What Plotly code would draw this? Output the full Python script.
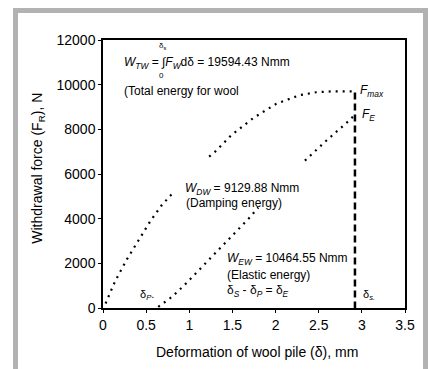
import plotly.graph_objects as go

# Loading curve (total energy), with a gap where the label sits
load_x = [0.03, 0.14, 0.28, 0.41, 0.55, 0.68, 0.82, None, 1.23, 1.30, 1.49, 1.74, 2.01, 2.28, 2.47, 2.65, 2.92]
load_y = [200, 1200, 2200, 3050, 3900, 4600, 5200, None, 6780, 7000, 7750, 8500, 9150, 9530, 9660, 9700, 9700]

# Unloading / elastic curve
elastic_x = [0.64, 0.80, 0.95, 1.10, 1.25, 1.40, 1.55, 1.70, 1.80, None, 2.34, 2.59, 2.82, 2.92]
elastic_y = [50, 500, 1050, 1650, 2250, 2850, 3450, 4050, 4500, None, 6600, 7500, 8280, 8650]

# delta_s vertical marker
ds_x = [2.92, 2.92]
ds_y = [9650, 0]

x_ticks = [0, 0.5, 1, 1.5, 2, 2.5, 3, 3.5]
x_tick_labels = ["0", "0.5", "1", "1.5", "2", "2.5", "3", "3.5"]
y_ticks = [0, 2000, 4000, 6000, 8000, 10000, 12000]
y_tick_labels = ["0", "2000", "4000", "6000", "8000", "10000", "12000"]

FONT = "Liberation Sans, Arial, sans-serif"

fig = go.Figure()
fig.add_trace(go.Scatter(x=load_x, y=load_y, mode="lines", connectgaps=False,
                         line=dict(color="black", width=2.2, dash="2px,5px"),
                         showlegend=False, hoverinfo="skip"))
fig.add_trace(go.Scatter(x=elastic_x, y=elastic_y, mode="lines", connectgaps=False,
                         line=dict(color="black", width=2.2, dash="2px,5px"),
                         showlegend=False, hoverinfo="skip"))
fig.add_trace(go.Scatter(x=ds_x, y=ds_y, mode="lines",
                         line=dict(color="black", width=2.5, dash="7px,4px"),
                         showlegend=False, hoverinfo="skip"))

ann = []
def txt(x, y, t, size=12):
    ann.append(dict(x=x, y=y, xref="x", yref="y",
                    text=t, showarrow=False, xanchor="left", yanchor="middle",
                    font=dict(family=FONT, size=size, color="black")))

txt(0.223, 10985, "<i>W</i><sub><i>TW</i></sub> = ∫<i>F</i><sub><i>W</i></sub>dδ = 19594.43 Nmm")
txt(0.62, 11720, "δ<sub>s</sub>", size=8)
txt(0.63, 10400, "0", size=8)
txt(0.223, 9718, "(Total energy for wool")
txt(2.955, 9718, "<i>F</i><sub><i>max</i></sub>")
txt(2.975, 8645, "<i>F</i><sub><i>E</i></sub>")
txt(0.93, 5330, "<i>W</i><sub><i>DW</i></sub> = 9129.88 Nmm")
txt(0.94, 4720, "(Damping energy)")
txt(1.414, 2180, "<i>W</i><sub><i>EW</i></sub> = 10464.55 Nmm")
txt(1.414, 1480, "(Elastic energy)")
txt(1.414, 742, "δ<sub><i>S</i></sub> - δ<sub><i>P</i></sub> = δ<sub><i>E</i></sub>")
txt(0.41, 595, "δ<sub><i>P</i></sub>.", size=11)
txt(2.99, 595, "δ<sub><i>s.</i></sub>", size=11)

# axis titles
ann.append(dict(x=-0.215, y=0.52, xref="paper", yref="paper", textangle=-90,
                text="Withdrawal force (F<sub>R</sub>), N", showarrow=False,
                xanchor="center", yanchor="middle",
                font=dict(family=FONT, size=14, color="black")))
ann.append(dict(x=0.51, y=-0.164, xref="paper", yref="paper",
                text="Deformation of wool pile (δ), mm", showarrow=False,
                xanchor="center", yanchor="middle",
                font=dict(family=FONT, size=14, color="black")))

W, H = 428, 369
L, R, T, B = 103, 23, 40, 61
pw, ph = W - L - R, H - T - B
def px(xp): return (xp - L) / pw
def py(yp): return (H - B - yp) / ph

fig.update_layout(
    width=W, height=H,
    margin=dict(l=L, r=R, t=T, b=B, pad=0),
    paper_bgcolor="white", plot_bgcolor="white",
    annotations=ann,
    shapes=[dict(type="rect", xref="paper", yref="paper",
                 x0=px(15.5), x1=px(425.5), y0=py(380), y1=py(10.5),
                 line=dict(color="rgb(178,178,178)", width=5), layer="below")],
    xaxis=dict(range=[0, 3.5], tickvals=x_ticks, ticktext=x_tick_labels,
               showgrid=False, zeroline=False, showline=True, mirror=True,
               linecolor="black", linewidth=1.5, ticks="outside", ticklen=3,
               tickcolor="black", tickfont=dict(family=FONT, size=14, color="black")),
    yaxis=dict(range=[0, 12000], tickvals=y_ticks, ticktext=y_tick_labels,
               showgrid=False, zeroline=False, showline=True, mirror=True,
               linecolor="black", linewidth=1.5, ticks="outside", ticklen=3,
               tickcolor="black", tickfont=dict(family=FONT, size=14, color="black")),
)

fig.write_html("out.html")
